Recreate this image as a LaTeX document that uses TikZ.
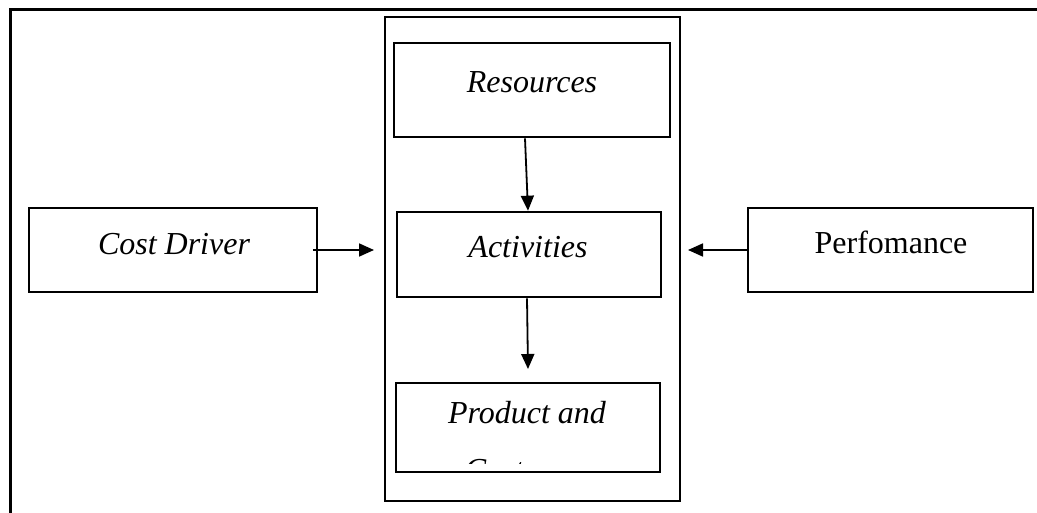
\documentclass[tikz,border=0pt]{standalone}
\usepackage{fontspec}
\setmainfont{Liberation Serif}
\usetikzlibrary{arrows.meta}
\tikzset{
  box/.style={draw=black, line width=2.6pt, inner sep=0pt},
  lbl/.style={inner sep=0pt, anchor=base, font=\fontsize{32}{38}\selectfont\itshape},
  lblup/.style={inner sep=0pt, anchor=base, font=\fontsize{32}{38}\selectfont},
  arr/.style={line width=1.8pt, -{Triangle[length=15pt,width=13pt]}},
}
\begin{document}
\begin{tikzpicture}[x=1pt,y=-1pt]
\useasboundingbox (0,0) rectangle (1037,513);
% outer frame (only top and left visible)
\draw[line width=3pt] (10,513) -- (10,10) -- (1037,10);
% container
\node[box, minimum width=295pt, minimum height=484pt] (cont) at (532.5,259) {};
% boxes
\node[box, minimum width=276pt, minimum height=94pt] (res) at (532,90) {};
\node[box, minimum width=264pt, minimum height=85pt] (act) at (529,254.5) {};
\node[box, minimum width=264pt, minimum height=89pt] (prod) at (528,427.5) {};
\node[box, minimum width=288pt, minimum height=84pt] (cd) at (173,250) {};
\node[box, minimum width=285pt, minimum height=84pt] (perf) at (890.5,250) {};
% labels
\node[lbl] (tres) at (532,93) {Resources};
\node[lbl] (tact) at (528,258) {Activities};
\node[lbl] (tcd) at (174,255) {Cost Driver};
\node[lblup] (tperf) at (891,254) {Perfomance};
\node[lbl] (tprod) at (527,423) {Product and};
\begin{scope}
  \clip (400,385) rectangle (656,463);
  \node[lbl] (tcust) at (527,480) {Customer};
\end{scope}
% connectors
\coordinate (cdtip) at (374,250);
\coordinate (perftip) at (688,250);
\coordinate (cdstart) at (313,250);
\draw[arr] (cdstart) -- (cdtip);
\draw[arr] (perf.west) -- (perftip);
\draw[arr] (res.south -| 525,0) -- (act.north -| 528,0);
\coordinate (prodtip) at (528,369);
\draw[arr] (act.south -| 527,0) -- (prodtip);
\end{tikzpicture}
\end{document}
